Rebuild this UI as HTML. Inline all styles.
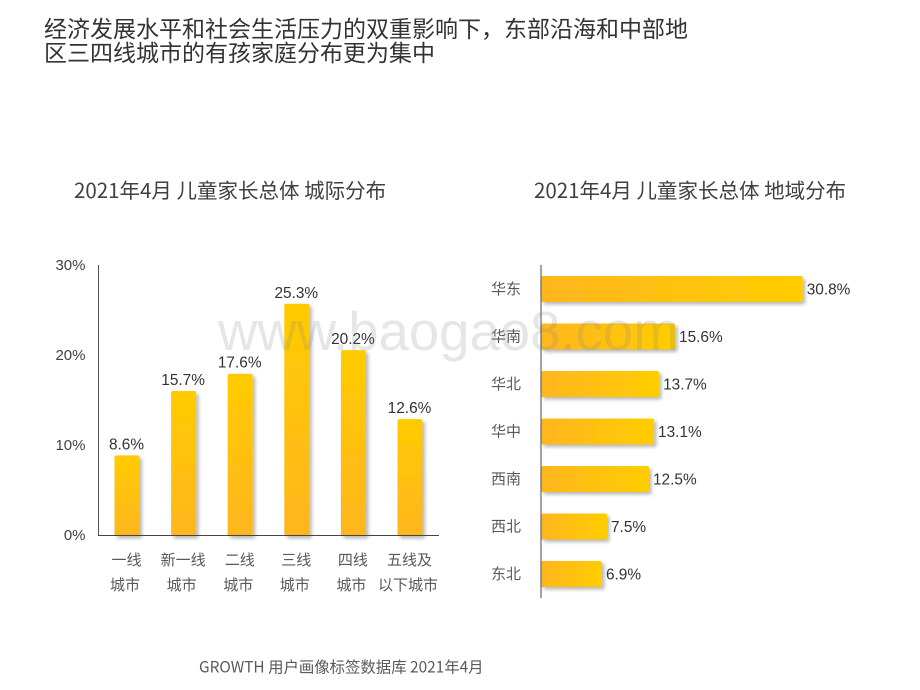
<!DOCTYPE html>
<html lang="zh">
<head>
<meta charset="utf-8">
<title>城际分布与地域分布</title>
<style>
html,body{margin:0;padding:0;background:#fff;width:920px;height:690px;overflow:hidden}
svg{display:block}
text{font-family:"Liberation Sans","Noto Sans CJK SC",sans-serif}
.cjk{font-family:"Noto Sans CJK SC","Liberation Sans",sans-serif}
</style>
</head>
<body>
<svg id="chart" width="920" height="690" viewBox="0 0 920 690" xmlns="http://www.w3.org/2000/svg">
  <defs>
    <linearGradient id="gradV" x1="0" y1="0" x2="0" y2="1">
      <stop offset="0" stop-color="#ffcb00"/><stop offset="1" stop-color="#ffb61f"/>
    </linearGradient>
    <linearGradient id="gradH" x1="0" y1="0" x2="1" y2="0">
      <stop offset="0" stop-color="#ffb61f"/><stop offset="1" stop-color="#ffcd00"/>
    </linearGradient>
    <filter id="shadow" x="-30%" y="-30%" width="170%" height="170%">
      <feDropShadow dx="2.5" dy="2.5" stdDeviation="1.8" flood-color="#000" flood-opacity="0.28"/>
    </filter>
  </defs>
  <text class="cjk" x="44" y="37" font-size="23" fill="#333">经济发展水平和社会生活压力的双重影响下，东部沿海和中部地</text>
  <text class="cjk" x="44" y="61" font-size="23" fill="#333">区三四线城市的有孩家庭分布更为集中</text>
  <text class="cjk" x="74" y="198" font-size="20.5" fill="#404040">2021年4月 儿童家长总体 城际分布</text>
  <text class="cjk" x="534" y="198" font-size="20.5" fill="#404040">2021年4月 儿童家长总体 地域分布</text>
  <g id="left-chart"></g>
  <g id="right-chart"></g>
  <text x="218" y="350" font-size="54.5" fill="#808080" fill-opacity="0.2">www.baogao8.com</text>
  <text class="cjk" x="199" y="672.5" font-size="15.4" fill="#595959">GROWTH 用户画像标签数据库 2021年4月</text>
</svg>
<script>
var tierLine1 = ['一线', '新一线', '二线', '三线', '四线', '五线及'];
var tierLine2 = ['城市', '城市', '城市', '城市', '城市', '以下城市'];
var tierValues = [8.6, 15.7, 17.6, 25.3, 20.2, 12.6];
var tierTicks = [0, 10, 20, 30];
var regionNames = ['华东', '华南', '华北', '华中', '西南', '西北', '东北'];
var regionValues = [30.8, 15.6, 13.7, 13.1, 12.5, 7.5, 6.9];

var NS = 'http://www.w3.org/2000/svg';
function make(parent, tag, attrs, txt) {
  var el = document.createElementNS(NS, tag);
  for (var k in attrs) el.setAttribute(k, attrs[k]);
  if (txt !== undefined) el.textContent = txt;
  parent.appendChild(el);
  return el;
}
function tickY(v) { return 535 - v * 9; }
function barTopY(v) { return 535 - (v * 9.08 + 1.5); }
function catX(i) { return 127 + i * 56.6; }
function barW(v) { return v * 8.4 + 3; }
function catY(i) { return 289 + i * 47.5; }

var L = document.getElementById('left-chart');
var R = document.getElementById('right-chart');

tierTicks.forEach(function (t) {
  var el = make(L, 'text', { x: 85.5, y: tickY(t) + 5, 'text-anchor': 'end', 'font-size': 15, fill: '#404040' }, t + '%');
  
  
});
tierValues.forEach(function (v, i) {
  var top = barTopY(v);
  var bar = make(L, 'rect', { x: catX(i) - 12.5, y: top, width: 25, height: 536 - top, rx: 2, fill: 'url(#gradV)', filter: 'url(#shadow)' });
  
  
  var val = make(L, 'text', { x: catX(i) - 0.5, y: top - 6, 'text-anchor': 'middle', 'font-size': 15.4, fill: '#333' }, v.toFixed(1) + '%');
  
  
  var c1 = make(L, 'text', { 'class': 'cjk', x: catX(i) - 0.5, y: 565, 'text-anchor': 'middle', 'font-size': 15, fill: '#595959' }, tierLine1[i]);
  
  
  var c2 = make(L, 'text', { 'class': 'cjk', x: catX(i) - 2, y: 590, 'text-anchor': 'middle', 'font-size': 15, fill: '#595959' }, tierLine2[i]);
  
  
});
var yAxis = make(L, 'line', { x1: 98.5, y1: 265, x2: 98.5, y2: 535.5, stroke: '#555', 'stroke-width': 1 });


var xAxis = make(L, 'line', { x1: 98, y1: 535.5, x2: 439, y2: 535.5, stroke: '#444', 'stroke-width': 1 });



regionValues.forEach(function (v, i) {
  var w = barW(v);
  var bar = make(R, 'rect', { x: 541, y: catY(i) - 13, width: w, height: 26, rx: 2, fill: 'url(#gradH)', filter: 'url(#shadow)' });
  
  
  var val = make(R, 'text', { x: 541 + w + 4, y: catY(i) + 5.5, 'font-size': 15.4, fill: '#333' }, v.toFixed(1) + '%');
  
  
  var cat = make(R, 'text', { 'class': 'cjk', x: 491, y: catY(i) + 5, 'font-size': 15, fill: '#595959' }, regionNames[i]);
  
  
});
var rAxis = make(R, 'line', { x1: 541, y1: 265, x2: 541, y2: 598, stroke: '#666', 'stroke-width': 1.2 });


</script>
</body>
</html>
